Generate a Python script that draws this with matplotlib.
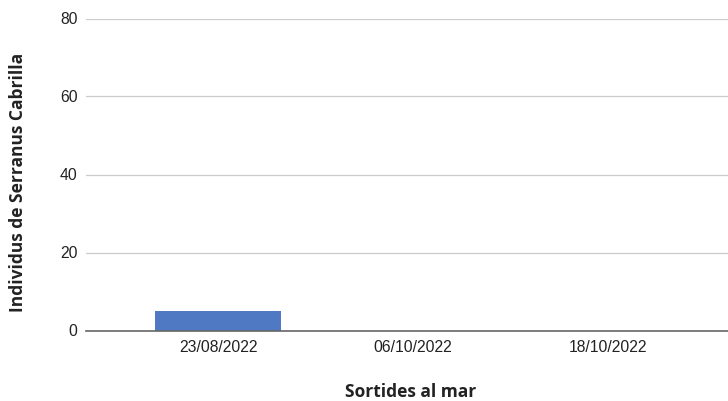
import matplotlib.pyplot as plt

dates = ['23/08/2022', '06/10/2022', '18/10/2022']
individus = [5, 0, 0]
yticks = [0, 20, 40, 60, 80]

fig = plt.figure(figsize=(7.28, 4.01), dpi=100)
# plot area runs past the right edge, like the cropped original
ax = fig.add_axes([86 / 728, 70.5 / 401, 654 / 728, 312 / 401])

x = list(range(len(dates)))
ax.bar(x, individus, width=0.646, color='#5079c3', zorder=3)

ax.set_xlim(-0.677, 2.677)
ax.set_ylim(0, 80)
ax.set_yticks(yticks)
ax.set_xticks(x)
ax.set_xticklabels(dates)

for s in ['top', 'right', 'left']:
    ax.spines[s].set_visible(False)
ax.spines['bottom'].set_color('#666666')
ax.spines['bottom'].set_linewidth(1.2)
ax.spines['bottom'].set_zorder(4)

ax.grid(axis='y', color='#cccccc', linewidth=0.9, zorder=0)
ax.tick_params(length=0, labelsize=11.3, labelcolor='#222222')
ax.tick_params(axis='y', pad=6)
ax.tick_params(axis='x', pad=7)
for lab in ax.get_xticklabels() + ax.get_yticklabels():
    lab.set_family('Liberation Sans')

fig.text(411 / 728, 1 - 392 / 401, 'Sortides al mar', ha='center', va='center',
         fontsize=12.5, fontweight='bold', family='Open Sans', color='#222222')
fig.text(18 / 728, 1 - 182 / 401, 'Individus de Serranus Cabrilla', ha='center',
         va='center', rotation=90, fontsize=12.5, fontweight='bold',
         family='Open Sans', color='#222222')

fig.savefig('out.png', dpi=100)
